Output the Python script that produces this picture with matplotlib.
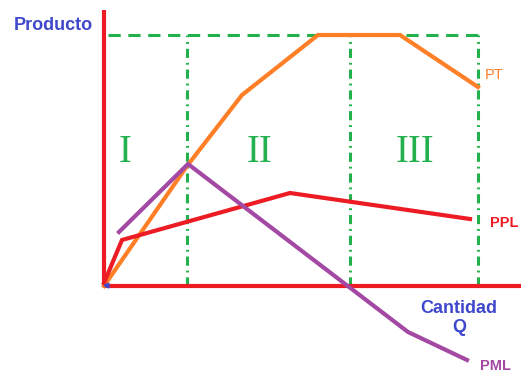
import matplotlib
matplotlib.use("Agg")
import matplotlib.pyplot as plt

# Data (x = quantity units, y = product units; origin at axes corner)
pt_x = [0, 83, 138, 214, 296, 374]
pt_y = [0, 120, 191, 251, 251, 199]

ppl_x = [0, 18, 186, 366]
ppl_y = [3, 46, 93, 67]

pml_x = [15, 84, 304, 363]
pml_y = [54, 122, -46, -74]

stage_bounds = [83, 246, 374]
top_level = 251
stage_labels = ["I", "II", "III"]
stage_label_x = [21, 155, 311]

RED = "#ED1C24"
ORANGE = "#FF7F27"
PURPLE = "#A349A4"
GREEN = "#22B14C"
BLUE = "#3F48CC"

fig = plt.figure(figsize=(5.21, 3.77), dpi=100)
ax = fig.add_axes([0, 0, 1, 1])
ax.set_xlim(-104, 417)
ax.set_ylim(-91, 286)
ax.axis("off")

# green guides
ax.plot([4, stage_bounds[-1]], [top_level, top_level], color=GREEN, lw=2.2,
        linestyle=(0, (4, 2.5)), zorder=1)
for xb in stage_bounds:
    ax.plot([xb, xb], [0, top_level], color=GREEN, lw=2.2,
            linestyle=(0, (3, 1.6, 0.6, 1.6)), zorder=1)

# axes
ax.plot([0, 0], [0, 276], color=RED, lw=3, solid_capstyle="butt", zorder=3)
ax.plot([0, 417], [0, 0], color=RED, lw=3, solid_capstyle="butt", zorder=3)

# curves
ax.plot(pt_x, pt_y, color=ORANGE, lw=3, zorder=4, solid_joinstyle="miter")
ax.plot(ppl_x, ppl_y, color=RED, lw=3, zorder=5, solid_joinstyle="miter")
ax.plot(pml_x, pml_y, color=PURPLE, lw=3, zorder=6, solid_joinstyle="miter")
ax.plot([2], [1], marker="<", color=BLUE, markersize=3.5, zorder=7)

# labels
ax.text(-11, 260, "Producto", color=BLUE, fontsize=13, fontweight="bold",
        family="Liberation Sans", ha="right", va="center")
ax.text(355, -32, "Cantidad\nQ", color=BLUE, fontsize=13, fontweight="bold",
        family="Liberation Sans", ha="center", va="center", linespacing=1.2)
ax.text(381, 211, "PT", color=ORANGE, fontsize=10.5, family="Liberation Sans",
        ha="left", va="center")
ax.text(386, 63, "PPL", color=RED, fontsize=10.5, fontweight="bold",
        family="Liberation Sans", ha="left", va="center")
ax.text(376, -80, "PML", color=PURPLE, fontsize=10.5, fontweight="bold",
        family="Liberation Sans", ha="left", va="center")

for lx, lab in zip(stage_label_x, stage_labels):
    ax.text(lx, 134, lab, color=GREEN, fontsize=28, family="Liberation Serif",
            ha="center", va="center")

fig.savefig("out.png", dpi=100)
